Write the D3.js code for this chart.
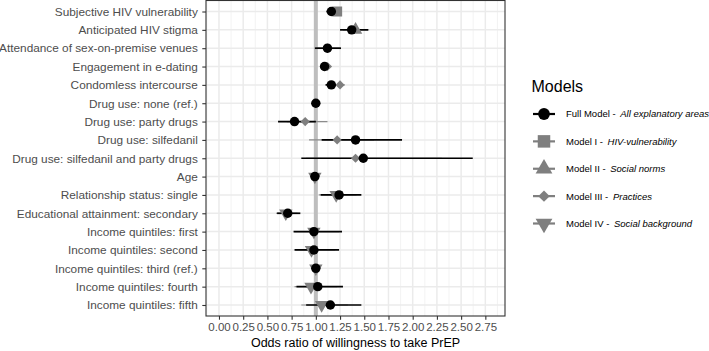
<!DOCTYPE html>
<html>
<head>
<meta charset="utf-8">
<script src="https://cdn.jsdelivr.net/npm/d3@7"></script>
<style>
  body { margin: 0; background: #fff; }
  svg { display: block; font-family: "Liberation Sans", Arial, sans-serif; }
</style>
</head>
<body>
<div id="chart"></div>
<script>
// ---------- data ----------
const categories = [
  "Subjective HIV vulnerability",
  "Anticipated HIV stigma",
  "Attendance of sex-on-premise venues",
  "Engagement in e-dating",
  "Condomless intercourse",
  "Drug use: none (ref.)",
  "Drug use: party drugs",
  "Drug use: silfedanil",
  "Drug use: silfedanil and party drugs",
  "Age",
  "Relationship status: single",
  "Educational attainment: secondary",
  "Income quintiles: first",
  "Income quintiles: second",
  "Income quintiles: third (ref.)",
  "Income quintiles: fourth",
  "Income quintiles: fifth"
];

const xTicks = [0, 0.25, 0.5, 0.75, 1, 1.25, 1.5, 1.75, 2, 2.25, 2.5, 2.75];

// Full model (all explanatory areas)
const fullEst = [1.16, 1.37, 1.12, 1.09, 1.16, 1.00, 0.78, 1.41, 1.49, 0.99, 1.24, 0.71, 0.98, 0.98, 1.00, 1.02, 1.15];
const fullLo  = [1.11, 1.25, 0.99, 1.05, 1.10, 1.00, 0.61, 1.06, 0.85, 0.98, 1.05, 0.60, 0.77, 0.78, 1.00, 0.80, 0.90];
const fullHi  = [1.21, 1.54, 1.26, 1.12, 1.20, 1.00, 1.00, 1.89, 2.62, 1.01, 1.47, 0.84, 1.27, 1.24, 1.00, 1.28, 1.47];

// Model I - HIV-vulnerability
const m1Est = [1.22, null, null, null, null, null, null, null, null, null, null, null, null, null, null, null, null];
const m1Lo  = [1.17, null, null, null, null, null, null, null, null, null, null, null, null, null, null, null, null];
const m1Hi  = [1.27, null, null, null, null, null, null, null, null, null, null, null, null, null, null, null, null];

// Model II - Social norms
const m2Est = [null, 1.41, null, null, null, null, null, null, null, null, null, null, null, null, null, null, null];
const m2Lo  = [null, 1.28, null, null, null, null, null, null, null, null, null, null, null, null, null, null, null];
const m2Hi  = [null, 1.55, null, null, null, null, null, null, null, null, null, null, null, null, null, null, null];

// Model III - Practices
const m3Est = [null, null, 1.12, 1.12, 1.25, 1.00, 0.89, 1.22, 1.41, null, null, null, null, null, null, null, null];
const m3Lo  = [null, null, 1.00, 1.08, 1.19, 1.00, 0.70, 0.93, 0.90, null, null, null, null, null, null, null, null];
const m3Hi  = [null, null, 1.25, 1.16, 1.30, 1.00, 1.12, 1.60, 2.30, null, null, null, null, null, null, null, null];

// Model IV - Social background
const m4Est = [null, null, null, null, null, null, null, null, null, 0.99, 1.21, 0.69, 0.98, 0.955, 1.00, 0.95, 1.06];
const m4Lo  = [null, null, null, null, null, null, null, null, null, 0.98, 1.03, 0.59, 0.78, 0.79, 1.00, 0.78, 0.85];
const m4Hi  = [null, null, null, null, null, null, null, null, null, 1.01, 1.42, 0.81, 1.24, 1.20, 1.00, 1.22, 1.33];

const modelNames = ["Full Model - ", "Model I - ", "Model II - ", "Model III - ", "Model IV - "];
const modelAreas = ["All explanatory areas", "HIV-vulnerability", "Social norms", "Practices", "Social background"];

// ---------- layout ----------
const W = 709, H = 351;
const panel = { left: 206, right: 505, top: 0.5, bottom: 316 };

const svg = d3.select("#chart").append("svg").attr("width", W).attr("height", H);

const x = d3.scaleLinear().domain([-0.134, 2.953]).range([panel.left, panel.right]);
const y = d3.scalePoint().domain(categories).range([panel.top, panel.bottom]).padding(0.6);

// panel background + grid
const g = svg.append("g");
g.append("rect").attr("x", panel.left).attr("y", panel.top)
  .attr("width", panel.right - panel.left).attr("height", panel.bottom - panel.top)
  .attr("fill", "#fff");

const minorTicks = d3.range(-0.125, 2.95, 0.25);
g.selectAll(".vminor").data(minorTicks).join("line")
  .attr("x1", d => x(d)).attr("x2", d => x(d))
  .attr("y1", panel.top).attr("y2", panel.bottom)
  .attr("stroke", "#f0f0f0").attr("stroke-width", 0.8);
g.selectAll(".vmajor").data(xTicks).join("line")
  .attr("x1", d => x(d)).attr("x2", d => x(d))
  .attr("y1", panel.top).attr("y2", panel.bottom)
  .attr("stroke", "#ebebeb").attr("stroke-width", 1.5);
g.selectAll(".hmajor").data(categories).join("line")
  .attr("x1", panel.left).attr("x2", panel.right)
  .attr("y1", d => y(d)).attr("y2", d => y(d))
  .attr("stroke", "#ebebeb").attr("stroke-width", 1.5);

// reference line at 1
g.append("line").attr("x1", x(1)).attr("x2", x(1))
  .attr("y1", panel.top).attr("y2", panel.bottom)
  .attr("stroke", "#bebebe").attr("stroke-width", 4);

// ---------- marks ----------
const gray = "#7f7f7f";
const models = [
  { est: m4Est, lo: m4Lo, hi: m4Hi, shape: "tdown", color: gray },
  { est: m3Est, lo: m3Lo, hi: m3Hi, shape: "diamond", color: gray },
  { est: m2Est, lo: m2Lo, hi: m2Hi, shape: "tup", color: gray },
  { est: m1Est, lo: m1Lo, hi: m1Hi, shape: "square", color: gray },
  { est: fullEst, lo: fullLo, hi: fullHi, shape: "circle", color: "#000" }
];

function symbolPath(shape, scale) {
  const k = scale || 1;
  if (shape === "circle") return d3.symbol(d3.symbolCircle, 70 * k * k)();
  if (shape === "square") return d3.symbol(d3.symbolSquare, 100 * k * k)();
  if (shape === "diamond") return d3.symbol(d3.symbolSquare, 42 * k * k)();
  return d3.symbol(d3.symbolTriangle, 78 * k * k)();
}
function symbolRotate(shape) {
  if (shape === "diamond") return 45;
  if (shape === "tdown") return 180;
  return 0;
}

const layerLines = svg.append("g");
const layerPts = svg.append("g");

models.forEach(m => {
  const idx = categories.map((c, i) => i).filter(i => m.est[i] !== null);
  layerLines.append("g").selectAll("line").data(idx).join("line")
    .attr("x1", i => x(m.lo[i])).attr("x2", i => x(m.hi[i]))
    .attr("y1", i => y(categories[i])).attr("y2", i => y(categories[i]))
    .attr("stroke", m.shape === "circle" ? "#000" : "#8c8c8c")
    .attr("stroke-width", m.shape === "circle" ? 1.7 : 1.2);
});
models.forEach(m => {
  const idx = categories.map((c, i) => i).filter(i => m.est[i] !== null);
  layerPts.append("g").selectAll("path").data(idx).join("path")
    .attr("d", symbolPath(m.shape))
    .attr("transform", i => `translate(${x(m.est[i])},${y(categories[i])}) rotate(${symbolRotate(m.shape)})`)
    .attr("fill", m.color);
});

// panel border
svg.append("rect").attr("x", panel.left).attr("y", panel.top)
  .attr("width", panel.right - panel.left).attr("height", panel.bottom - panel.top)
  .attr("fill", "none").attr("stroke", "#333").attr("stroke-width", 1.1);

// ---------- axes ----------
const yAxis = d3.axisLeft(y).tickSize(3.7).tickPadding(4.5);
const yg = svg.append("g").attr("transform", `translate(${panel.left},0)`).call(yAxis);
yg.select(".domain").remove();
yg.selectAll(".tick line").attr("stroke", "#333").attr("stroke-width", 1.1);
yg.selectAll(".tick text").attr("fill", "#4d4d4d").style("font-size", "11.8px")
  .style("font-family", "'Liberation Sans', Arial, sans-serif");

const xAxis = d3.axisBottom(x).tickValues(xTicks).tickFormat(d3.format(".2f")).tickSize(3.7).tickPadding(3);
const xg = svg.append("g").attr("transform", `translate(0,${panel.bottom})`).call(xAxis);
xg.select(".domain").remove();
xg.selectAll(".tick line").attr("stroke", "#333").attr("stroke-width", 1.1);
xg.selectAll(".tick text").attr("fill", "#4d4d4d").style("font-size", "11.5px")
  .style("font-family", "'Liberation Sans', Arial, sans-serif");

svg.append("text")
  .attr("x", (panel.left + panel.right) / 2).attr("y", 347)
  .attr("text-anchor", "middle").attr("fill", "#000")
  .style("font-size", "12.5px")
  .text("Odds ratio of willingness to take PrEP");

// ---------- legend ----------
svg.append("text").attr("x", 531.5).attr("y", 92.3)
  .style("font-size", "16px").attr("fill", "#000").text("Models");

const legendShapes = ["circle", "square", "tup", "diamond", "tdown"];
const legendY = d3.scalePoint().domain(d3.range(5)).range([114, 223.5]);
const lg = svg.append("g").selectAll("g").data(d3.range(5)).join("g")
  .attr("transform", i => `translate(0,${legendY(i)})`);
lg.append("line").attr("x1", 533).attr("x2", 555).attr("y1", 0).attr("y2", 0)
  .attr("stroke", i => i === 0 ? "#000" : gray).attr("stroke-width", 2.2);
lg.append("path")
  .attr("d", i => symbolPath(legendShapes[i], 1.25))
  .attr("transform", i => `translate(544,0) rotate(${symbolRotate(legendShapes[i])})`)
  .attr("fill", i => i === 0 ? "#000" : gray);
const lt = lg.append("text").attr("x", 566).attr("y", 3.4).style("font-size", "9.5px").attr("fill", "#000");
lt.append("tspan").text(i => modelNames[i]);
lt.append("tspan").attr("dx", 2).style("font-style", "italic").text(i => modelAreas[i]);
</script>
</body>
</html>
